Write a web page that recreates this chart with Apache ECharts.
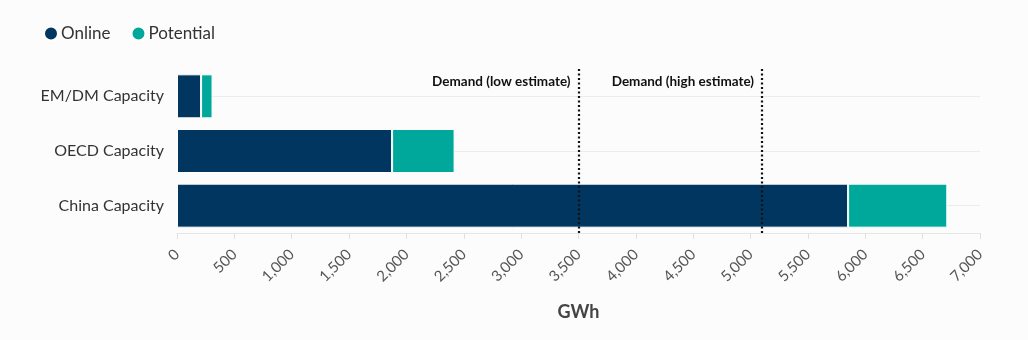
<!DOCTYPE html>
<html>
<head>
<meta charset="utf-8">
<script src="https://cdn.jsdelivr.net/npm/echarts@6/dist/echarts.min.js"></script>
<style>
html, body { margin: 0; padding: 0; background: #fcfcfc; }
#main { width: 1028px; height: 340px; }
</style>
</head>
<body>
<div id="main"></div>
<script>
// data
var categories = ['China Capacity', 'OECD Capacity', 'EM/DM Capacity'];
var online = [5850, 1875, 210];
var potential = [865, 545, 100];
var demandValues = [3500, 5100];
var demandLabels = ['Demand (low estimate)', 'Demand (high estimate)'];

var navy = '#003660';
var teal = '#00a89c';
var font = 'Lato';

var markPts = [];
for (var i = 0; i < demandValues.length; i++) {
    markPts.push({ coord: [demandValues[i], 'EM/DM Capacity'], label: { formatter: demandLabels[i] } });
}

var myChart = echarts.init(document.getElementById('main'));
var option = {
    backgroundColor: '#fcfcfc',
    textStyle: { fontFamily: font },
    legend: {
        left: 38, top: 20,
        itemWidth: 14, itemHeight: 14, itemGap: 20,
        icon: 'circle',
        textStyle: { fontSize: 17, color: '#333', fontFamily: font, padding: [0, 0, 0, -2] },
        data: ['Online', 'Potential']
    },
    grid: { left: 177, right: 48, top: 69, bottom: 107 },
    xAxis: {
        type: 'value',
        min: 0, max: 7000, interval: 500,
        name: 'GWh',
        nameLocation: 'middle',
        nameGap: 70,
        nameTextStyle: { fontSize: 18, fontWeight: 'bold', color: '#444', fontFamily: font },
        axisLine: { show: true, lineStyle: { color: '#e6e6e6' } },
        axisTick: { show: true, length: 6, lineStyle: { color: '#e0e0e0' } },
        splitLine: { show: false },
        axisLabel: {
            rotate: 45, fontSize: 15, color: '#555', margin: 19,
            formatter: function (v) { return v.toLocaleString('en-US'); }
        }
    },
    yAxis: {
        type: 'category',
        data: categories,
        axisLine: { show: false },
        axisTick: { show: false },
        splitLine: { show: true, alignWithLabel: true, lineStyle: { color: '#ececec' } },
        axisLabel: { fontSize: 16, color: '#333', margin: 13 }
    },
    series: [
        {
            name: 'Online', type: 'bar', stack: 'cap', barWidth: 44,
            itemStyle: { color: navy, borderColor: '#fff', borderWidth: 1 },
            data: online,
            markPoint: {
                symbol: 'circle', symbolSize: 0,
                label: {
                    show: true, position: 'left', distance: 8, offset: [0, -15],
                    fontSize: 13.5, fontWeight: 'bold', color: '#111', fontFamily: font
                },
                data: markPts
            }
        },
        {
            name: 'Potential', type: 'bar', stack: 'cap', barWidth: 44,
            itemStyle: { color: teal, borderColor: '#fff', borderWidth: 1 },
            data: potential,
            markLine: {
                silent: true, symbol: 'none',
                label: { show: false },
                lineStyle: { color: '#111', type: [2, 2.5], width: 2.2 },
                data: demandValues.map(function (v) { return { xAxis: v }; })
            }
        }
    ]
};
myChart.setOption(option);
</script>
</body>
</html>
